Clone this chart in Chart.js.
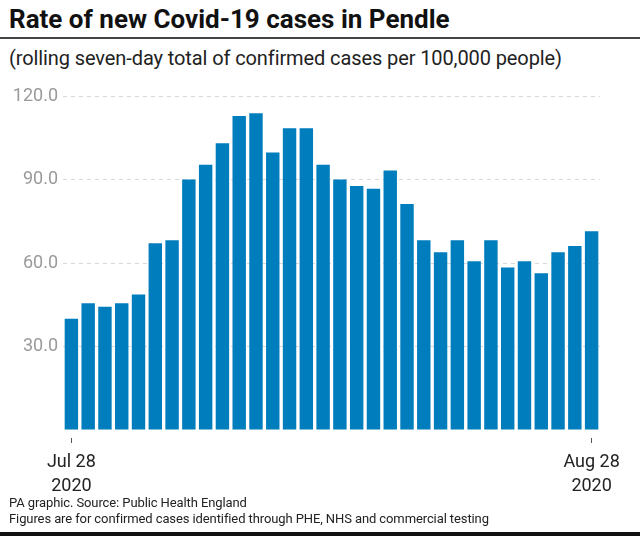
<!DOCTYPE html>
<html>
<head>
<meta charset="utf-8">
<script src="https://cdn.jsdelivr.net/npm/chart.js@4/dist/chart.umd.min.js"></script>
<style>
  body { margin: 0; background: #fff; font-family: Roboto, "Liberation Sans", sans-serif; }
  #page { position: relative; width: 640px; height: 536px; overflow: hidden; }
  #title { position: absolute; left: 9px; top: 4px; font-size: 26px; font-weight: bold; color: #111; letter-spacing: 0; }
  #rule { position: absolute; left: 0; top: 37px; width: 640px; height: 2px; background: #444; }
  #subtitle { position: absolute; left: 9px; top: 46px; font-size: 20px; color: #222; letter-spacing: -0.1px; }
  #box { position: absolute; left: 0; top: 80px; width: 640px; height: 420px; }
  #foot { position: absolute; left: 9px; top: 495px; font-size: 13px; line-height: 16px; color: #222; letter-spacing: -0.1px; }
  #bottom { position: absolute; left: 0; top: 532px; width: 640px; height: 4px; background: #111; }
</style>
</head>
<body>
<div id="page">
  <div id="title">Rate of new Covid-19 cases in Pendle</div>
  <div id="rule"></div>
  <div id="subtitle">(rolling seven-day total of confirmed cases per 100,000 people)</div>
  <div id="box"><canvas id="chart"></canvas></div>
  <div id="foot">PA graphic. Source: Public Health England<br>Figures are for confirmed cases identified through PHE, NHS and commercial testing</div>
  <div id="bottom"></div>
</div>
<script>
// Jul 28 .. Aug 28 2020, one bar per day
var days = ['Jul 28','Jul 29','Jul 30','Jul 31','Aug 1','Aug 2','Aug 3','Aug 4','Aug 5','Aug 6','Aug 7',
            'Aug 8','Aug 9','Aug 10','Aug 11','Aug 12','Aug 13','Aug 14','Aug 15','Aug 16','Aug 17','Aug 18',
            'Aug 19','Aug 20','Aug 21','Aug 22','Aug 23','Aug 24','Aug 25','Aug 26','Aug 27','Aug 28'];
var rates = [40.0, 45.5, 44.3, 45.5, 48.7, 67.1, 68.2, 90.0, 95.3, 103.0, 112.8,
             113.8, 99.7, 108.4, 108.4, 95.3, 90.0, 87.7, 86.7, 93.2, 81.2, 68.2,
             63.9, 68.2, 60.6, 68.2, 58.4, 60.6, 56.3, 63.9, 66.1, 71.4];
var yTicks = [30, 60, 90, 120];
var year = '2020';

var last = days.length - 1;

new Chart(document.getElementById('chart'), {
    type: 'bar',
    data: {
        labels: days,
        datasets: [{
            data: rates,
            backgroundColor: '#007dbc',
            barPercentage: 0.8,
            categoryPercentage: 1.0
        }]
    },
    options: {
        responsive: true,
        maintainAspectRatio: false,
        animation: false,
        layout: { padding: { top: 16, right: 40, left: 0, bottom: 0 } },
        plugins: { legend: { display: false }, tooltip: { enabled: false } },
        scales: {
            x: {
                grid: {
                    offset: false,
                    drawOnChartArea: false,
                    tickLength: 14,
                    tickBorderDash: [0, 8, 5, 100],
                    tickColor: function (c) { return (c.index === 0 || c.index === last) ? '#555' : 'rgba(0,0,0,0)'; }
                },
                border: { display: false },
                ticks: {
                    autoSkip: false,
                    maxRotation: 0,
                    padding: 7,
                    color: '#222',
                    font: { family: 'Roboto', size: 18, lineHeight: 1.33 },
                    callback: function (v, i) {
                        if (i === 0 || i === last) return [days[i], year];
                        return '';
                    }
                },
                afterFit: function (s) { s.height = 70; }
            },
            y: {
                min: 0,
                max: 120,
                afterBuildTicks: function (s) { s.ticks = [0].concat(yTicks).map(function (v) { return { value: v }; }); },
                grid: {
                    drawTicks: false,
                    color: function (c) { return c.tick && c.tick.value === 0 ? 'rgba(0,0,0,0)' : '#d8d8d8'; }
                },
                border: { display: false, dash: [4, 4] },
                ticks: {
                    padding: 5,
                    color: '#9a9a9a',
                    font: { family: 'Roboto', size: 18 },
                    callback: function (v) { return v === 0 ? '' : v.toFixed(1); }
                },
                afterFit: function (s) { s.width = 63; }
            }
        }
    }
});
</script>
</body>
</html>
